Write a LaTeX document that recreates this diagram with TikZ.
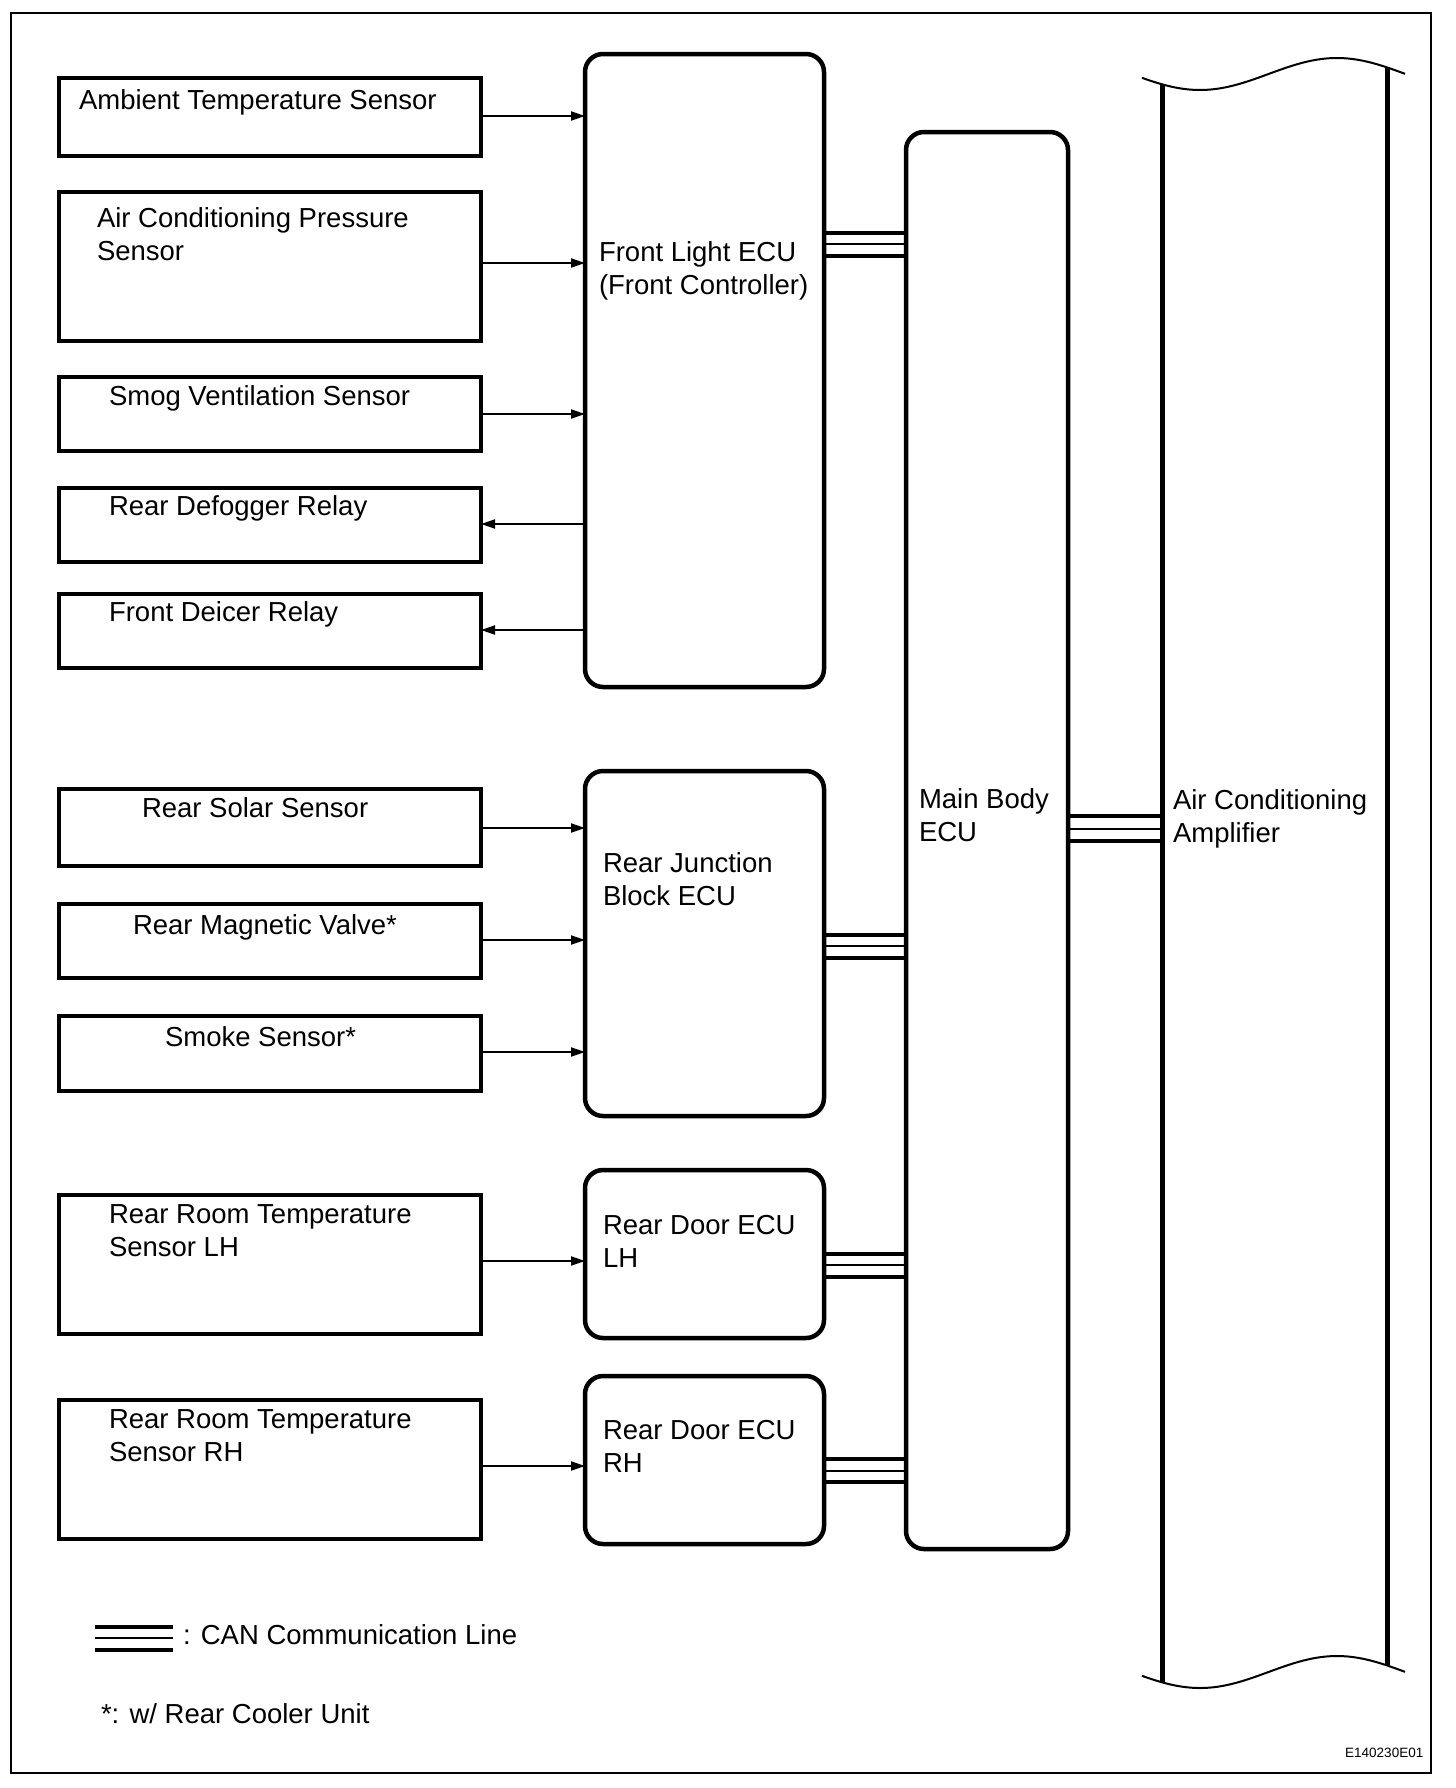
\documentclass[tikz,border=0pt]{standalone}
\usepackage{fontspec}
\setmainfont{Liberation Sans}
\usetikzlibrary{arrows.meta}
\begin{document}
\begin{tikzpicture}[x=1pt,y=-1pt,
  sbox/.style={draw, line width=4.5pt, anchor=north west, inner sep=0pt, outer sep=0pt, minimum width=422pt},
  ecu/.style={draw, line width=4.5pt, anchor=north west, inner sep=0pt, outer sep=0pt, rounded corners=18pt},
  lbl/.style={anchor=north west, inner sep=0pt, outer sep=0pt, align=left, font=\fontsize{27.5}{33}\selectfont},
  sig/.style={line width=2pt, -{Triangle[length=14pt,width=9pt]}},
  canthick/.style={line width=4pt},
  canthin/.style={line width=2.2pt},
  wave/.style={line width=2pt},
  ampline/.style={line width=5pt}
]
\useasboundingbox (0,0) rectangle (1456,1788);
\draw[line width=2pt] (11,13) rectangle (1431,1773);

% left boxes
\node[sbox, minimum height=78pt] (amb) at (59,78) {};
\node[sbox, minimum height=149pt] (acp) at (59,192) {};
\node[sbox, minimum height=74pt] (smog) at (59,377) {};
\node[sbox, minimum height=74pt] (defog) at (59,488) {};
\node[sbox, minimum height=74pt] (deicer) at (59,594) {};
\node[sbox, minimum height=77pt] (solar) at (59,789) {};
\node[sbox, minimum height=74pt] (magv) at (59,904) {};
\node[sbox, minimum height=75pt] (smoke) at (59,1016) {};
\node[sbox, minimum height=139pt] (roomlh) at (59,1195) {};
\node[sbox, minimum height=139pt] (roomrh) at (59,1400) {};

% ECUs
\node[ecu, minimum width=239pt, minimum height=633pt] (fl) at (585,54) {};
\node[ecu, minimum width=239pt, minimum height=345pt] (rjb) at (585,771) {};
\node[ecu, minimum width=239pt, minimum height=168pt] (doorlh) at (585,1170) {};
\node[ecu, minimum width=239pt, minimum height=168pt] (doorrh) at (585,1376) {};
\node[ecu, minimum width=162pt, minimum height=1417pt] (mb) at (906,132) {};

% Air conditioning amplifier (broken-off box)
\coordinate (ampL) at (1162,0);
\coordinate (ampR) at (1387,0);
\draw[wave, domain=1142:1405, samples=60, variable=\x] plot (\x, {74+16*cos((\x-1200)*1.3139)});
\draw[wave, domain=1142:1405, samples=60, variable=\x] plot (\x, {1672+16*cos((\x-1200)*1.3139)});
\draw[ampline] (1162,{74+16*cos((1162-1200)*1.3139)}) -- (1162,{1672+16*cos((1162-1200)*1.3139)});
\draw[ampline] (1387,{74+16*cos((1387-1200)*1.3139)}) -- (1387,{1672+16*cos((1387-1200)*1.3139)});

% labels
\node[lbl] (tamb) at (79,90) {Ambient Temperature Sensor};
\node[lbl] (tacp) at (97,208) {Air Conditioning Pressure\\Sensor};
\node[lbl] (tsmog) at (109,386) {Smog Ventilation Sensor};
\node[lbl] (tdefog) at (109,496) {Rear Defogger Relay};
\node[lbl] (tdeicer) at (109,602) {Front Deicer Relay};
\node[lbl] (tsolar) at (142,798) {Rear Solar Sensor};
\node[lbl] (tmagv) at (133,915) {Rear Magnetic Valve*};
\node[lbl] (tsmoke) at (165,1027) {Smoke Sensor*};
\node[lbl] (troomlh) at (109,1205) {Rear Room Temperature\\Sensor LH};
\node[lbl] (troomrh) at (109,1410) {Rear Room Temperature\\Sensor RH};
\node[lbl] (tfl) at (599,242) {Front Light ECU\\(Front Controller)};
\node[lbl] (trjb) at (603,853) {Rear Junction\\Block ECU};
\node[lbl] (tdoorlh) at (603,1215) {Rear Door ECU\\LH};
\node[lbl] (tdoorrh) at (603,1420) {Rear Door ECU\\RH};
\node[lbl] (tmb) at (919,789) {Main Body\\ECU};
\node[lbl] (tamp) at (1173,790) {Air Conditioning\\Amplifier};

% signal arrows
\draw[sig] (amb.east |- 0,116) -- (fl.west |- 0,116);
\draw[sig] (acp.east |- 0,263) -- (fl.west |- 0,263);
\draw[sig] (smog.east |- 0,414) -- (fl.west |- 0,414);
\draw[sig] (fl.west |- 0,524) -- (defog.east |- 0,524);
\draw[sig] (fl.west |- 0,630) -- (deicer.east |- 0,630);
\draw[sig] (solar.east |- 0,828) -- (rjb.west |- 0,828);
\draw[sig] (magv.east |- 0,940) -- (rjb.west |- 0,940);
\draw[sig] (smoke.east |- 0,1052) -- (rjb.west |- 0,1052);
\draw[sig] (roomlh.east |- 0,1261) -- (doorlh.west |- 0,1261);
\draw[sig] (roomrh.east |- 0,1466) -- (doorrh.west |- 0,1466);

% CAN lines
\foreach \src/\dst/\ya/\yb/\yc in {fl/mb/233/244/256, rjb/mb/935/946/958, doorlh/mb/1254/1265/1277, doorrh/mb/1459/1471/1482}{
  \draw[canthick] (\src.east |- 0,\ya) -- (\dst.west |- 0,\ya);
  \draw[canthin] (\src.east |- 0,\yb) -- (\dst.west |- 0,\yb);
  \draw[canthick] (\src.east |- 0,\yc) -- (\dst.west |- 0,\yc);
}
\draw[canthick] (mb.east |- 0,816) -- (ampL |- 0,816);
\draw[canthin] (mb.east |- 0,829) -- (ampL |- 0,829);
\draw[canthick] (mb.east |- 0,841) -- (ampL |- 0,841);

% legend
\coordinate (lgA) at (95,1627);
\coordinate (lgB) at (173,1627);
\draw[canthick] (lgA) -- (lgB);
\draw[canthin] ([yshift=-11pt]lgA) -- ([yshift=-11pt]lgB);
\draw[canthick] ([yshift=-23pt]lgA) -- ([yshift=-23pt]lgB);
\node[lbl] (tlegend) at (183,1625) {: CAN Communication Line};
\node[lbl] (tnote) at (101,1704) {*: w/ Rear Cooler Unit};
\node[anchor=north west, inner sep=0pt, font=\fontsize{13.5}{15}\selectfont] (tcode) at (1345,1748) {E140230E01};
\end{tikzpicture}
\end{document}
